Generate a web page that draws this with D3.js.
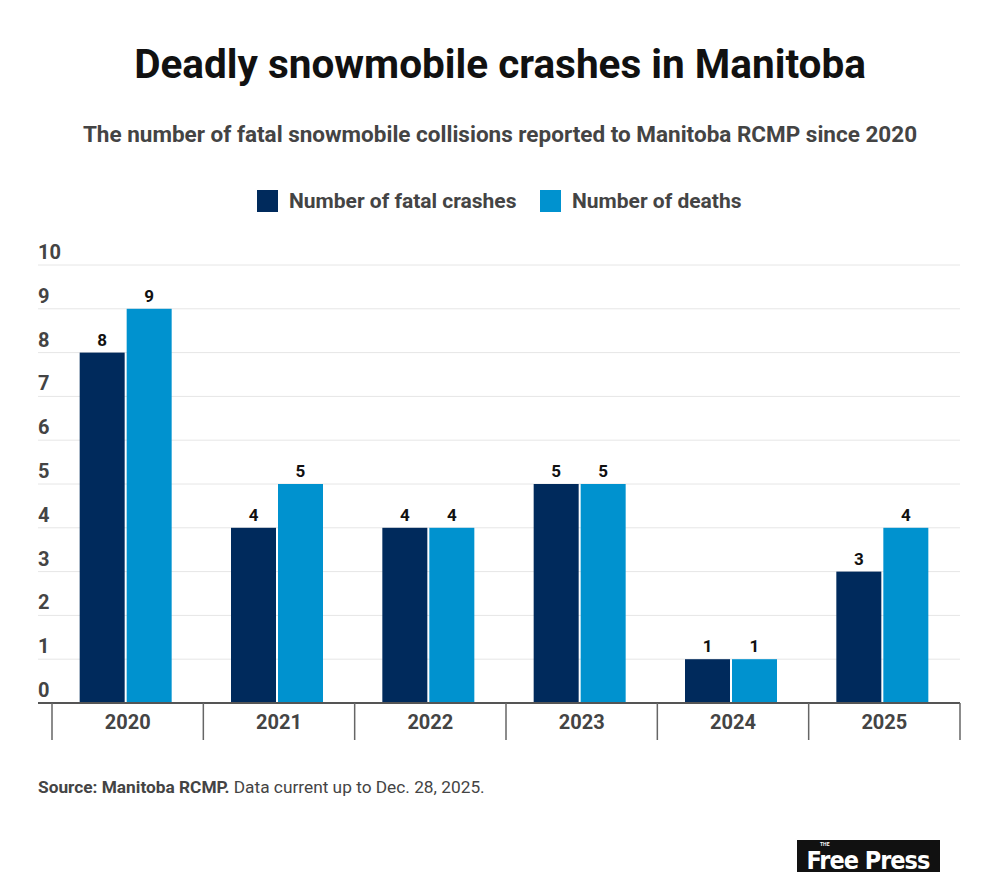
<!DOCTYPE html>
<html lang="en">
<head>
<meta charset="UTF-8">
<title>Deadly snowmobile crashes in Manitoba</title>
<script src="https://cdn.jsdelivr.net/npm/d3@7"></script>
<style>
    body { margin: 0; background: #fff; font-family: Roboto, sans-serif; }
</style>
</head>
<body>
<svg id="chart" width="1000" height="896"></svg>
<script>
    const years = ["2020", "2021", "2022", "2023", "2024", "2025"];
    const crashes = [8, 4, 4, 5, 1, 3];
    const deaths = [9, 5, 4, 5, 1, 4];
    const yTicks = [0, 1, 2, 3, 4, 5, 6, 7, 8, 9, 10];
    const seriesNames = ["Number of fatal crashes", "Number of deaths"];
    const colors = ["#002a5c", "#0092cf"];

    const svg = d3.select("#chart");

    svg.append("text").attr("x", 500).attr("y", 78).attr("text-anchor", "middle")
        .style("font-size", "40.5px").style("font-weight", 700).style("fill", "#111")
        .text("Deadly snowmobile crashes in Manitoba");
    svg.append("text").attr("x", 500).attr("y", 142).attr("text-anchor", "middle")
        .style("font-size", "22.5px").style("font-weight", 700).style("fill", "#444")
        .text("The number of fatal snowmobile collisions reported to Manitoba RCMP since 2020");

    // legend
    const legend = [{x: 257, tx: 289}, {x: 540, tx: 572}];
    legend.forEach((l, i) => {
        svg.append("rect").attr("x", l.x).attr("y", 190).attr("width", 21).attr("height", 22)
            .attr("fill", colors[i]);
        svg.append("text").attr("x", l.tx).attr("y", 208)
            .style("font-size", "21px").style("font-weight", 700).style("fill", "#444")
            .text(seriesNames[i]);
    });

    const y = d3.scaleLinear().domain([0, 10]).range([703, 265]);
    const x = d3.scaleBand().domain(years).range([52, 960]);

    // gridlines and tick labels
    yTicks.forEach(t => {
        if (t > 0) {
            svg.append("line").attr("x1", 38).attr("x2", 960)
                .attr("y1", y(t)).attr("y2", y(t))
                .attr("stroke", "#e6e6e6").attr("stroke-width", 1);
        }
        svg.append("text").attr("x", 38).attr("y", y(t) - 6)
            .style("font-size", "20px").style("font-weight", 700).style("fill", "#444")
            .text(t);
    });

    const barW = 45, gap = 2;
    const groups = svg.selectAll("g.year").data(years).enter().append("g")
        .attr("transform", d => `translate(${x(d) + x.bandwidth() / 2 - 2},0)`);

    [crashes, deaths].forEach((vals, si) => {
        groups.append("rect")
            .attr("x", si === 0 ? -barW - gap / 2 : gap / 2)
            .attr("y", (d, i) => y(vals[i]))
            .attr("width", barW)
            .attr("height", (d, i) => y(0) - y(vals[i]))
            .attr("fill", colors[si]);
        groups.append("text")
            .attr("x", si === 0 ? -barW / 2 - gap / 2 : barW / 2 + gap / 2)
            .attr("y", (d, i) => y(vals[i]) - 7)
            .attr("text-anchor", "middle")
            .style("font-size", "17px").style("font-weight", 700).style("fill", "#111")
            .text((d, i) => vals[i]);
    });

    // x axis
    svg.append("line").attr("x1", 38).attr("x2", 960).attr("y1", 703).attr("y2", 703)
        .attr("stroke", "#555").attr("stroke-width", 2);
    x.domain().concat(["end"]).forEach((d, i) => {
        const px = i < years.length ? x(d) : x.range()[1];
        svg.append("line").attr("x1", px).attr("x2", px).attr("y1", 703).attr("y2", 740)
            .attr("stroke", "#666").attr("stroke-width", 1.5);
    });
    svg.selectAll("text.xlab").data(years).enter().append("text")
        .attr("x", d => x(d) + x.bandwidth() / 2).attr("y", 729)
        .attr("text-anchor", "middle")
        .style("font-size", "20px").style("font-weight", 700).style("fill", "#444")
        .text(d => d);

    const src = svg.append("text").attr("x", 38).attr("y", 793)
        .style("font-size", "17.3px").style("fill", "#444");
    src.append("tspan").style("font-weight", 700).text("Source: Manitoba RCMP.");
    src.append("tspan").text(" Data current up to Dec. 28, 2025.");

    // logo
    svg.append("rect").attr("x", 797).attr("y", 840).attr("width", 143).attr("height", 32).attr("fill", "#111");
    svg.append("text").attr("x", 868).attr("y", 869).attr("text-anchor", "middle")
        .style("font-family", "'Liberation Sans Narrow', 'DejaVu Sans Condensed', sans-serif")
        .style("font-size", "25px").style("font-weight", 700).style("fill", "#fff")
        .style("letter-spacing", "-1px").text("Free Press");
    svg.append("text").attr("x", 820).attr("y", 846)
        .style("font-size", "5px").style("font-weight", 700).style("fill", "#fff").text("THE");
</script>
</body>
</html>
